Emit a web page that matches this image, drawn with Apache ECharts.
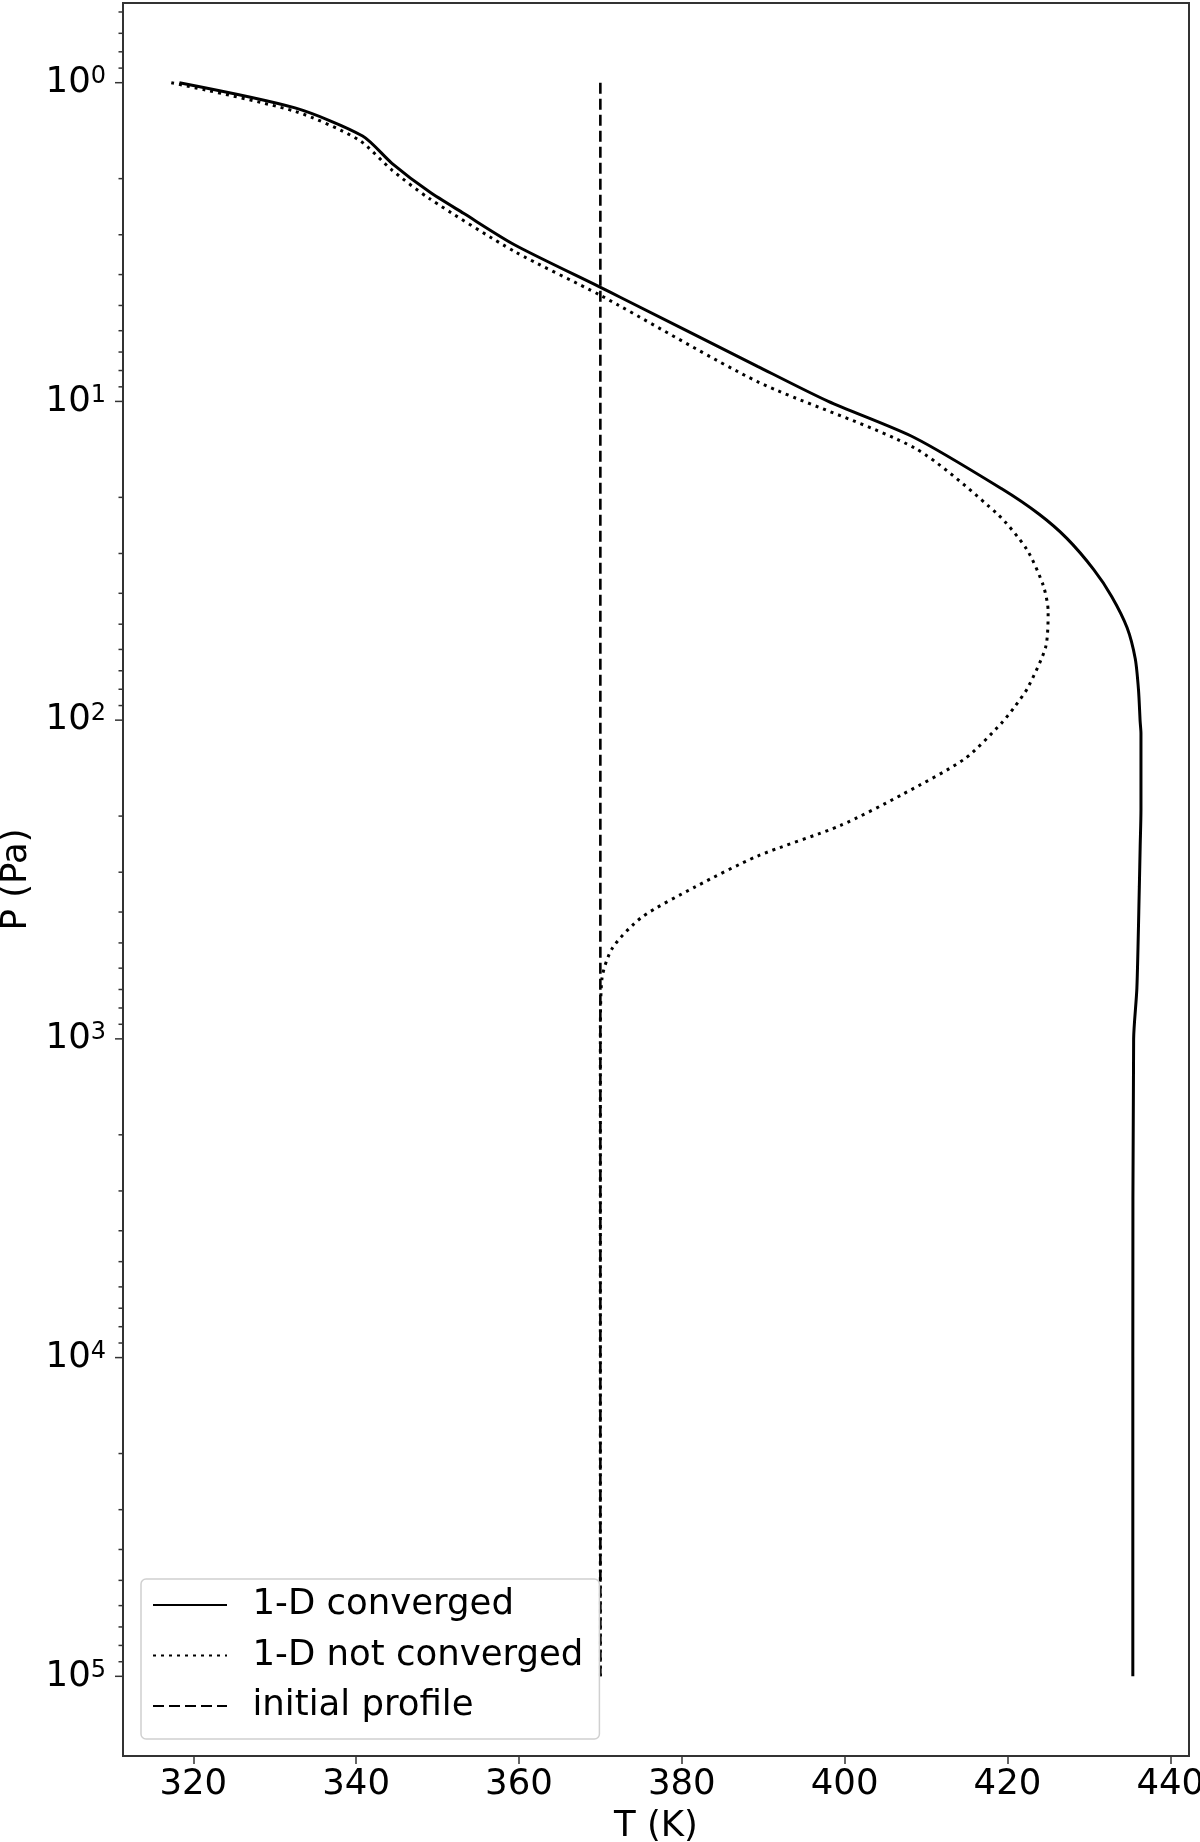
<!DOCTYPE html>
<html>
<head>
<meta charset="utf-8">
<title>T-P profile</title>
<script src="https://cdn.jsdelivr.net/npm/echarts@6/dist/echarts.min.js"></script>
<style>
  html, body { margin: 0; padding: 0; background: #fff; }
  #chart { width: 1200px; height: 1842px; }
</style>
</head>
<body>
<div id="chart"></div>
<script>
// temperatures (K) and pressures (Pa)
const convergedT = [318.3, 332.5, 340.8, 344.4, 349.0, 353.2, 359.5, 369.9, 372.5, 389.3, 398.0, 408.6, 419.3, 423.9, 427.3, 430.6, 432.8, 434.7, 435.7, 436.1, 436.3, 436.4, 436.4, 436.3, 436.2, 435.9, 435.5, 435.4, 435.4]
const convergedP = [1.0, 1.20, 1.47, 1.79, 2.20, 2.57, 3.23, 4.37, 4.72, 7.76, 10.0, 13.0, 18.8, 22.6, 26.9, 33.7, 40.9, 51.3, 64.2, 80.5, 101, 110, 191, 251, 333, 692, 1000, 10000, 100000]

const notConvergedT = [317.3, 332.5, 340.3, 344.4, 349.0, 359.5, 369.9, 389.3, 408.6, 418.8, 422.4, 424.4, 425.0, 424.7, 422.5, 420.8, 419.3, 414.8, 407.1, 399.5, 389.3, 381.7, 375.1, 371.5, 370.2, 370.0, 370.0]
const notConvergedP = [1.0, 1.23, 1.51, 1.88, 2.31, 3.39, 4.63, 8.67, 14.0, 22.6, 29.2, 37.8, 45.5, 58.9, 79.1, 91.4, 102, 132, 171, 214, 267, 333, 415, 518, 646, 1000, 100000]

const initialT = [370, 370]
const initialP = [1, 100000]

const seriesNames = ['1-D converged', '1-D not converged', 'initial profile']

// axis ranges and ticks
const T_MIN = 311.37
const T_MAX = 442.3
const P_MIN = 0.5623
const P_MAX = 177828
const xTicks = [320, 340, 360, 380, 400, 420, 440]
const yMajorTicks = [1, 10, 100, 1000, 10000, 100000]
const yMinorTicks = [
  0.6, 0.7, 0.8, 0.9,
  2, 3, 4, 5, 6, 7, 8, 9,
  20, 30, 40, 50, 60, 70, 80, 90,
  200, 300, 400, 500, 600, 700, 800, 900,
  2000, 3000, 4000, 5000, 6000, 7000, 8000, 9000,
  20000, 30000, 40000, 50000, 60000, 70000, 80000, 90000,
]

const FONT = "'DejaVu Sans', sans-serif"
const FONT_SIZE = 35.5
const AXIS_COLOR = '#333'

const zip = (xs, ys) => xs.map((x, i) => [x, ys[i]])

const yTickData = [
  ...yMajorTicks.map(v => [T_MIN, v, 8]),
  ...yMinorTicks.map(v => [T_MIN, v, 4.5]),
]

const chart = echarts.init(document.getElementById('chart'), null, { renderer: 'canvas' })

chart.setOption({
  animation: false,
  backgroundColor: '#fff',
  grid: {
    left: 123,
    right: 11,
    top: 3,
    bottom: 86,
    show: true,
    borderColor: AXIS_COLOR,
    borderWidth: 2,
    containLabel: false,
    outerBoundsMode: 'none',
  },
  legend: {
    data: seriesNames,
    orient: 'vertical',
    left: 141,
    top: 1579,
    padding: [6, 16, 13, 11],
    itemWidth: 74,
    itemHeight: 4,
    itemGap: 10.5,
    backgroundColor: 'rgba(255,255,255,0.8)',
    borderColor: '#d0d0d0',
    borderWidth: 1.5,
    borderRadius: 5,
    itemStyle: { opacity: 0 },
    textStyle: {
      fontFamily: FONT,
      fontSize: FONT_SIZE,
      color: '#000',
      lineHeight: 40,
      padding: [0, 0, 0, 20.5],
    },
  },
  xAxis: {
    type: 'value',
    min: T_MIN,
    max: T_MAX,
    name: 'T (K)',
    nameLocation: 'middle',
    nameGap: 53,
    nameTextStyle: { fontFamily: FONT, fontSize: FONT_SIZE, color: '#000' },
    axisLine: { show: false },
    splitLine: { show: false },
    axisTick: {
      show: true,
      length: 8,
      customValues: xTicks,
      lineStyle: { color: AXIS_COLOR, width: 1.5 },
    },
    axisLabel: {
      customValues: xTicks,
      margin: 11,
      fontFamily: FONT,
      fontSize: FONT_SIZE,
      color: '#000',
    },
  },
  yAxis: {
    type: 'log',
    logBase: 10,
    inverse: true,
    min: P_MIN,
    max: P_MAX,
    name: 'P (Pa)',
    nameLocation: 'middle',
    nameGap: 88,
    nameRotate: 90,
    nameTextStyle: { fontFamily: FONT, fontSize: FONT_SIZE, color: '#000' },
    axisLine: { show: false },
    splitLine: { show: false },
    axisTick: { show: false },
    axisLabel: {
      margin: 17,
      formatter: v => {
        const lg = Math.log10(v)
        const e = Math.round(lg)
        if (Math.abs(lg - e) > 1e-6 || e < 0) return ''
        return '{b|10}{s|' + e + '}'
      },
      rich: {
        b: { fontFamily: FONT, fontSize: FONT_SIZE, color: '#000', lineHeight: 36 },
        s: { fontFamily: FONT, fontSize: 24, color: '#000', lineHeight: 26, verticalAlign: 'top' },
      },
    },
  },
  series: [
    {
      name: seriesNames[0],
      type: 'line',
      data: zip(convergedT, convergedP),
      showSymbol: false,
      symbol: 'none',
      smooth: 0.25,
      lineStyle: { color: '#000', width: 3, type: 'solid' },
      itemStyle: { color: '#000' },
      z: 3,
    },
    {
      name: seriesNames[1],
      type: 'line',
      data: zip(notConvergedT, notConvergedP),
      showSymbol: false,
      symbol: 'none',
      smooth: 0.25,
      lineStyle: { color: '#000', width: 3, type: [3, 5], cap: 'butt' },
      itemStyle: { color: '#000' },
      z: 3,
    },
    {
      name: seriesNames[2],
      type: 'line',
      data: zip(initialT, initialP),
      showSymbol: false,
      symbol: 'none',
      lineStyle: { color: '#000', width: 2.6, type: [11, 5] },
      itemStyle: { color: '#000' },
      z: 3,
    },
    {
      // log minor/major ticks on the left spine
      name: 'yticks',
      type: 'custom',
      silent: true,
      clip: false,
      z: 5,
      data: yTickData,
      encode: { x: 0, y: 1 },
      renderItem: (params, api) => {
        const p = api.coord([api.value(0), api.value(1)])
        const len = api.value(2)
        return {
          type: 'line',
          shape: { x1: p[0] - len, y1: p[1], x2: p[0], y2: p[1] },
          style: { stroke: AXIS_COLOR, lineWidth: 1.5 },
        }
      },
    },
  ],
})
</script>
</body>
</html>
